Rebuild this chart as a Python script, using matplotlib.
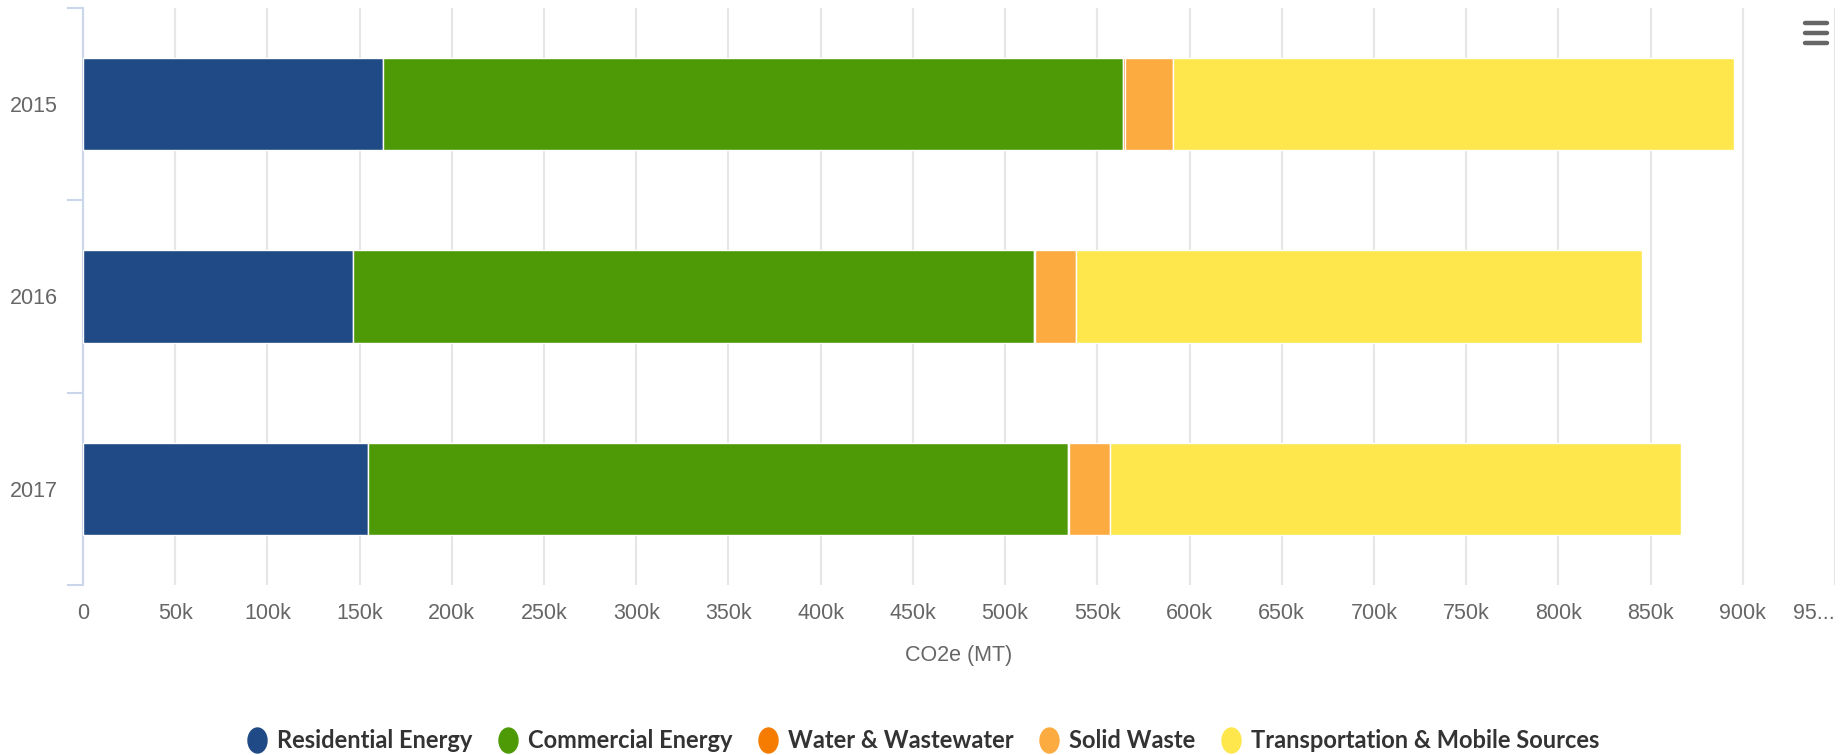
import numpy as np
import matplotlib
matplotlib.use("Agg")
import matplotlib.pyplot as plt
from matplotlib import font_manager as fm
from matplotlib.lines import Line2D
from matplotlib.path import Path
from matplotlib.transforms import Affine2D

# ---------------- data ----------------
years = ["2015", "2016", "2017"]
series_names = ["Residential Energy", "Commercial Energy", "Water & Wastewater",
                "Solid Waste", "Transportation & Mobile Sources"]
residential = [162800, 146200, 154700]
commercial = [401300, 369400, 379200]
water = [700, 700, 700]
solid_waste = [26100, 22100, 22500]
transportation = [304100, 306700, 309200]
x_ticks = list(range(0, 950001, 50000))
x_tick_labels = ["0", "50k", "100k", "150k", "200k", "250k", "300k", "350k", "400k",
                 "450k", "500k", "550k", "600k", "650k", "700k", "750k", "800k",
                 "850k", "900k", "95..."]
x_title = "CO2e (MT)"

colors = ["#1f4a85", "#4e9a06", "#f57c00", "#fbab3f", "#fde74c"]


def has_font(name):
    try:
        fm.findfont(fm.FontProperties(family=name), fallback_to_default=False)
        return True
    except Exception:
        return False


base_font = "Liberation Sans" if has_font("Liberation Sans") else "DejaVu Sans"
if has_font("Liberation Sans Narrow"):
    legend_font, legend_size = "Liberation Sans Narrow", 18.5
elif has_font("Lato"):
    legend_font, legend_size = "Lato", 17
else:
    legend_font, legend_size = base_font, 15.5

W, H = 1847, 755
fig = plt.figure(figsize=(W / 100, H / 100), dpi=100)
px_left, px_right, px_top, px_bottom = 83, 1835, 8, 585
ax = fig.add_axes([px_left / W, 1 - px_bottom / H,
                   (px_right - px_left) / W, (px_bottom - px_top) / H])

values = [residential, commercial, water, solid_waste, transportation]
y = np.arange(len(years))
left = np.zeros(len(years))
for name, vals, col in zip(series_names, values, colors):
    ax.barh(y, vals, left=left, height=0.48, color=col, edgecolor="white",
            linewidth=1.0, label=name, zorder=3)
    left = left + np.array(vals)

ax.set_xlim(0, 950000)
ax.set_ylim(2.5, -0.5)

ax.set_xticks(x_ticks)
ax.set_xticklabels(x_tick_labels, fontfamily=base_font, fontsize=15.5, color="#666666")
ax.get_xticklabels()[-1].set_ha("right")
ax.tick_params(axis="x", length=0, pad=13)
ax.grid(axis="x", color="#e6e6e6", linewidth=1.5, zorder=0)
ax.set_axisbelow(True)

ax.set_yticks(y)
ax.set_yticklabels(years, fontfamily=base_font, fontsize=15.5, color="#666666")
ax.tick_params(axis="y", which="major", length=0, pad=18)
ax.set_yticks([-0.5, 0.5, 1.5, 2.5], minor=True)
ax.tick_params(axis="y", which="minor", length=11.5, width=1.5, color="#ccd6eb")

for s in ["top", "right", "bottom"]:
    ax.spines[s].set_visible(False)
ax.spines["left"].set_color("#ccd6eb")
ax.spines["left"].set_linewidth(1.5)

ax.set_xlabel(x_title, fontfamily=base_font, fontsize=15.5, color="#666666")
ax.xaxis.set_label_coords(0.5, (px_bottom - 656) / (px_bottom - px_top))
ax.xaxis.label.set_va("center")

# legend with elliptical markers
ell = Path.unit_circle().transformed(Affine2D().scale(0.76, 1.0))
handles = [Line2D([], [], linestyle="none", marker=ell, markersize=18,
                  markerfacecolor=c, markeredgecolor=c) for c in colors]
leg = fig.legend(handles, series_names, loc="center", ncol=5,
                 bbox_to_anchor=(0.5, 1 - 741 / H), frameon=False,
                 prop={"family": legend_font, "weight": "bold", "size": legend_size},
                 handlelength=0.8, handletextpad=0.45, columnspacing=1.1,
                 borderaxespad=0)
for t in leg.get_texts():
    t.set_color("#333333")

# export menu icon
for yy in [23, 33, 43]:
    fig.add_artist(Line2D([1805 / W, 1827 / W], [1 - yy / H, 1 - yy / H],
                          color="#666666", linewidth=3.2, solid_capstyle="round"))

fig.savefig("out.png", dpi=100, facecolor="white")
